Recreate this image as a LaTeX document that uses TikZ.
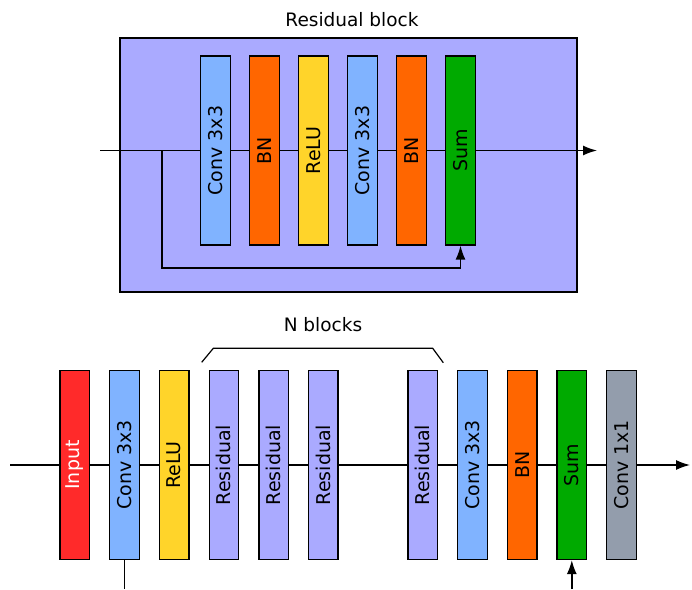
\documentclass[tikz,border=0pt]{standalone}
\usepackage{fontspec}
\setmainfont{DejaVu Sans}
\usetikzlibrary{arrows.meta}
\definecolor{cconv}{HTML}{80B3FF}
\definecolor{cbn}{HTML}{FF6600}
\definecolor{crelu}{HTML}{FFD42A}
\definecolor{csum}{HTML}{00AA00}
\definecolor{cres}{HTML}{AAAAFF}
\definecolor{cin}{HTML}{FF2A2A}
\definecolor{cgray}{HTML}{939DAC}
\tikzset{
  layer/.style={draw=black, line width=1.3pt, rotate=90, minimum width=189pt, minimum height=29.5pt, inner sep=0pt, font=\fontsize{19}{22}\selectfont},
  conn/.style={line width=1.4pt},
  arr/.style={line width=1.4pt, -{Latex[length=14pt,width=10pt]}},
  lbl/.style={font=\fontsize{18.5}{22}\selectfont, inner sep=0pt}
}
\begin{document}
\begin{tikzpicture}[x=1pt,y=-1pt]
\useasboundingbox (0,0) rectangle (692,589);
% ---------- Residual block ----------
\node[draw=black, line width=1.3pt, fill=cres, minimum width=457pt, minimum height=254pt, inner sep=0pt] (rb) at (348.5,165) {};
\node[lbl] (rbt) at (352,20) {Residual block};
\node[layer, fill=cconv] (t1) at (215.5,150.5) {Conv 3x3};
\node[layer, fill=cbn]   (t2) at (264.5,150.5) {BN};
\node[layer, fill=crelu] (t3) at (313.5,150.5) {ReLU};
\node[layer, fill=cconv] (t4) at (362.5,150.5) {Conv 3x3};
\node[layer, fill=cbn]   (t5) at (411.5,150.5) {BN};
\node[layer, fill=csum]  (t6) at (460.5,150.5) {Sum};
\coordinate (tin) at (100,150.5);
\coordinate (tbr) at (162,150.5);
\coordinate (tk) at (162,268);
\coordinate (tout) at (597,150.5);
\draw[conn] (tin) -- (t1);
\draw[conn] (t1) -- (t2);
\draw[conn] (t2) -- (t3);
\draw[conn] (t3) -- (t4);
\draw[conn] (t4) -- (t5);
\draw[conn] (t5) -- (t6);
\draw[arr] (t6) -- (tout);
\draw[arr] (tbr) -- (tk) -| (t6);
% ---------- Network ----------
\node[layer, fill=cin, text=white] (b1) at (74.8,465) {Input};
\node[layer, fill=cconv] (b2) at (124.5,465) {Conv 3x3};
\node[layer, fill=crelu] (b3) at (174.2,465) {ReLU};
\node[layer, fill=cres]  (b4) at (223.9,465) {Residual};
\node[layer, fill=cres]  (b5) at (273.6,465) {Residual};
\node[layer, fill=cres]  (b6) at (323.3,465) {Residual};
\node[layer, fill=cres]  (b7) at (422.7,465) {Residual};
\node[layer, fill=cconv] (b8) at (472.4,465) {Conv 3x3};
\node[layer, fill=cbn]   (b9) at (522.1,465) {BN};
\node[layer, fill=csum]  (b10) at (571.8,465) {Sum};
\node[layer, fill=cgray] (b11) at (621.5,465) {Conv 1x1};
\coordinate (bin) at (10,465);
\coordinate (bout) at (690,465);
\coordinate (bcd) at (124.5,589);
\coordinate (bsd) at (571.8,589);
\draw[conn] (bin) -- (b1);
\draw[conn] (b1) -- (b2);
\draw[conn] (b2) -- (b3);
\draw[conn] (b3) -- (b4);
\draw[conn] (b4) -- (b5);
\draw[conn] (b5) -- (b6);
\draw[conn] (b6) -- (b7);
\draw[conn] (b7) -- (b8);
\draw[conn] (b8) -- (b9);
\draw[conn] (b9) -- (b10);
\draw[conn] (b10) -- (b11);
\draw[arr] (b11) -- (bout);
\draw[conn] (b2) -- (bcd);
\draw[arr] (bsd) -- (b10);
% bracket
\draw[line width=1.2pt] (201.7,362.3) -- (213.3,348.3) -- (432.7,348.3) -- (443.3,362.7);
\node[lbl] (nb) at (323,325) {N blocks};
\end{tikzpicture}
\end{document}
